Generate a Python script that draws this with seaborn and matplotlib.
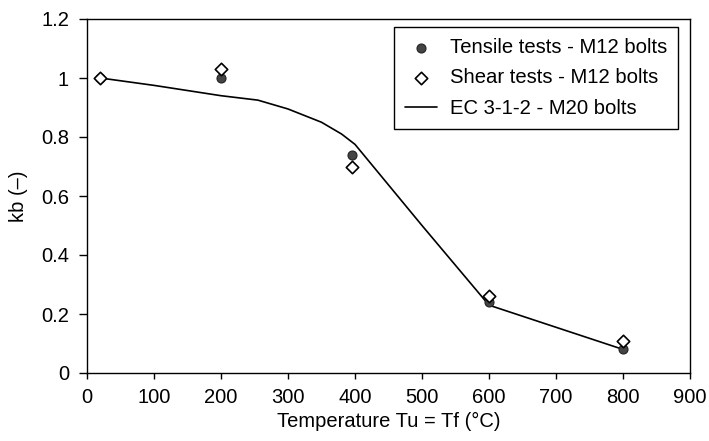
import matplotlib
matplotlib.use("Agg")
import matplotlib.pyplot as plt
import seaborn as sns
import pandas as pd

# Data
test_temps = [20, 200, 395, 600, 800]
tensile_kb = [1.00, 1.00, 0.74, 0.24, 0.08]
shear_temps = [20, 200, 395, 600, 800]
shear_kb = [1.00, 1.03, 0.70, 0.26, 0.11]
ec_temps = [20, 100, 200, 255, 300, 350, 380, 400, 500, 600, 700, 800]
ec_kb = [1.00, 0.975, 0.940, 0.925, 0.895, 0.850, 0.810, 0.775, 0.500, 0.230, 0.155, 0.080]
x_ticks = [0, 100, 200, 300, 400, 500, 600, 700, 800, 900]
y_ticks = [0, 0.2, 0.4, 0.6, 0.8, 1.0, 1.2]
y_tick_labels = ["0", "0.2", "0.4", "0.6", "0.8", "1", "1.2"]

sns.set_style("ticks")
plt.rcParams['font.family'] = ['Liberation Sans', 'DejaVu Sans']
plt.rcParams['text.color'] = 'black'
plt.rcParams['axes.labelcolor'] = 'black'
plt.rcParams['xtick.color'] = 'black'
plt.rcParams['ytick.color'] = 'black'

fig = plt.figure(figsize=(7.09, 4.41), dpi=100)
ax = fig.add_axes([87 / 709, 1 - 373 / 441, 603 / 709, 354 / 441])

df_t = pd.DataFrame({"T": test_temps, "kb": tensile_kb})
df_s = pd.DataFrame({"T": shear_temps, "kb": shear_kb})
df_ec = pd.DataFrame({"T": ec_temps, "kb": ec_kb})

sns.lineplot(data=df_ec, x="T", y="kb", ax=ax, color="black", linewidth=1.2,
             label="EC 3-1-2 - M20 bolts", zorder=2)
sns.scatterplot(data=df_t, x="T", y="kb", ax=ax, marker="o", s=42,
                color="#444444", edgecolor="#222222", linewidth=0.8,
                label="Tensile tests - M12 bolts", zorder=3)
sns.scatterplot(data=df_s, x="T", y="kb", ax=ax, marker="D", s=40,
                color="white", edgecolor="black", linewidth=1.2,
                label="Shear tests - M12 bolts", zorder=4)

ax.set_xlim(0, 900)
ax.set_ylim(0, 1.2)
ax.set_xticks(x_ticks)
ax.set_yticks(y_ticks)
ax.set_yticklabels(y_tick_labels)
ax.tick_params(axis="x", labelsize=14.5, length=4, width=1, colors="black", direction="out", pad=7)
ax.tick_params(axis="y", labelsize=14.5, length=6, width=1, colors="black", direction="out", pad=7)
ax.set_xlabel("Temperature Tu = Tf (°C)", fontsize=14.5, labelpad=3, color="black")
ax.set_ylabel("kb (–)", fontsize=14.5, labelpad=9, color="black")
for sp in ax.spines.values():
    sp.set_visible(True)
    sp.set_color("black")
    sp.set_linewidth(1.0)

handles, labels = ax.get_legend_handles_labels()
order = [labels.index("Tensile tests - M12 bolts"), labels.index("Shear tests - M12 bolts"),
         labels.index("EC 3-1-2 - M20 bolts")]
leg = ax.legend([handles[i] for i in order], [labels[i] for i in order],
                loc="upper right", bbox_to_anchor=(0.980, 0.977), borderaxespad=0,
                fontsize=14.6, frameon=True, fancybox=False, edgecolor="black", framealpha=1,
                handlelength=1.6, handletextpad=0.6, borderpad=0.55, labelspacing=0.55)
leg.get_frame().set_linewidth(1.0)
for t in leg.get_texts():
    t.set_color("black")

fig.savefig("out.png", dpi=100)
